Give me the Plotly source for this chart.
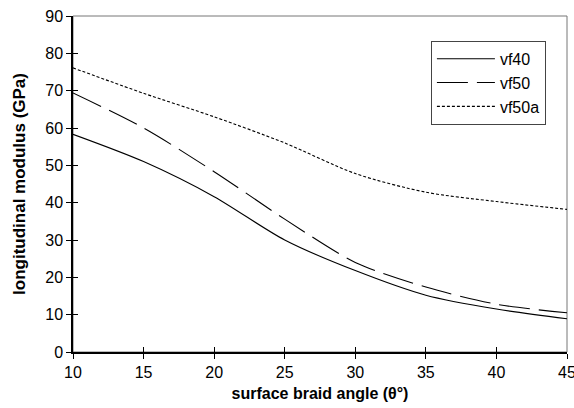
import plotly.graph_objects as go

angle = [10, 15, 20, 25, 30, 35, 40, 45]
vf40 = [58.3, 51.0, 41.6, 30.0, 21.8, 15.2, 11.5, 8.9]
vf50 = [69.4, 60.0, 48.3, 35.6, 24.0, 17.4, 12.8, 10.5]
vf50a = [76.1, 69.3, 63.0, 56.0, 47.8, 42.8, 40.3, 38.2]
x_ticks = [10, 15, 20, 25, 30, 35, 40, 45]
y_ticks = [0, 10, 20, 30, 40, 50, 60, 70, 80, 90]

series = [("vf40", vf40, "solid"), ("vf50", vf50, "31px,9px"), ("vf50a", vf50a, "3px,2px")]

fig = go.Figure()
for name, vals, dash in series:
    fig.add_trace(go.Scatter(x=angle, y=vals, name=name, mode="lines",
                             line=dict(color="black", width=1.1, dash=dash, shape="spline", smoothing=0.8),
                             legendgroup=name))

# invisible trace for crossing-tick overlay axes
fig.add_trace(go.Scatter(x=[angle[0]], y=[vf40[0]], xaxis="x2", yaxis="y2", mode="markers",
                         marker=dict(opacity=0), showlegend=False, hoverinfo="skip"))

font = "Liberation Sans, Arial, sans-serif"
fig.update_layout(
    width=574, height=408,
    margin=dict(l=73, r=7, t=16, b=56),
    paper_bgcolor="white", plot_bgcolor="white",
    font=dict(family=font, size=16, color="black"),
    showlegend=True,
    legend=dict(x=0.7245, y=0.926, xanchor="left", yanchor="top",
                bgcolor="white", bordercolor="#444", borderwidth=1,
                font=dict(size=16), itemwidth=58, tracegroupgap=0,
                traceorder="grouped"),
    xaxis=dict(range=[10, 45], tickvals=x_ticks, automargin=False, ticklabeloverflow="allow",
               showgrid=False, zeroline=False, showline=True, linecolor="black", linewidth=1.5,
               ticks="outside", ticklen=5, tickcolor="black", tickwidth=1, tickfont=dict(size=16),
               title=dict(text="<b>surface braid angle (θ°)</b>", font=dict(size=16), standoff=8)),
    yaxis=dict(range=[0, 90], tickvals=y_ticks, automargin=False,
               showgrid=False, zeroline=False, showline=True, linecolor="black", linewidth=1.5,
               ticks="outside", ticklen=5, tickcolor="black", tickwidth=1, tickfont=dict(size=16),
               title=dict(text="<b>longitudinal modulus (GPa)</b>", font=dict(size=17), standoff=15)),
    xaxis2=dict(overlaying="x", matches="x", range=[10, 45], tickvals=x_ticks, automargin=False,
                showgrid=False, zeroline=False, showline=False, showticklabels=False,
                ticks="inside", ticklen=5, tickcolor="black", tickwidth=1),
    yaxis2=dict(overlaying="y", matches="y", range=[0, 90], tickvals=y_ticks, automargin=False,
                showgrid=False, zeroline=False, showline=False, showticklabels=False,
                ticks="inside", ticklen=5, tickcolor="black", tickwidth=1),
    shapes=[dict(type="rect", xref="paper", yref="paper", x0=0, x1=1, y0=0, y1=1,
                 line=dict(color="#777", width=1), layer="below")],
)

fig.write_html("out.html", config={"displayModeBar": False},
               post_script="document.body.style.margin='0';document.body.style.overflow='hidden';")
